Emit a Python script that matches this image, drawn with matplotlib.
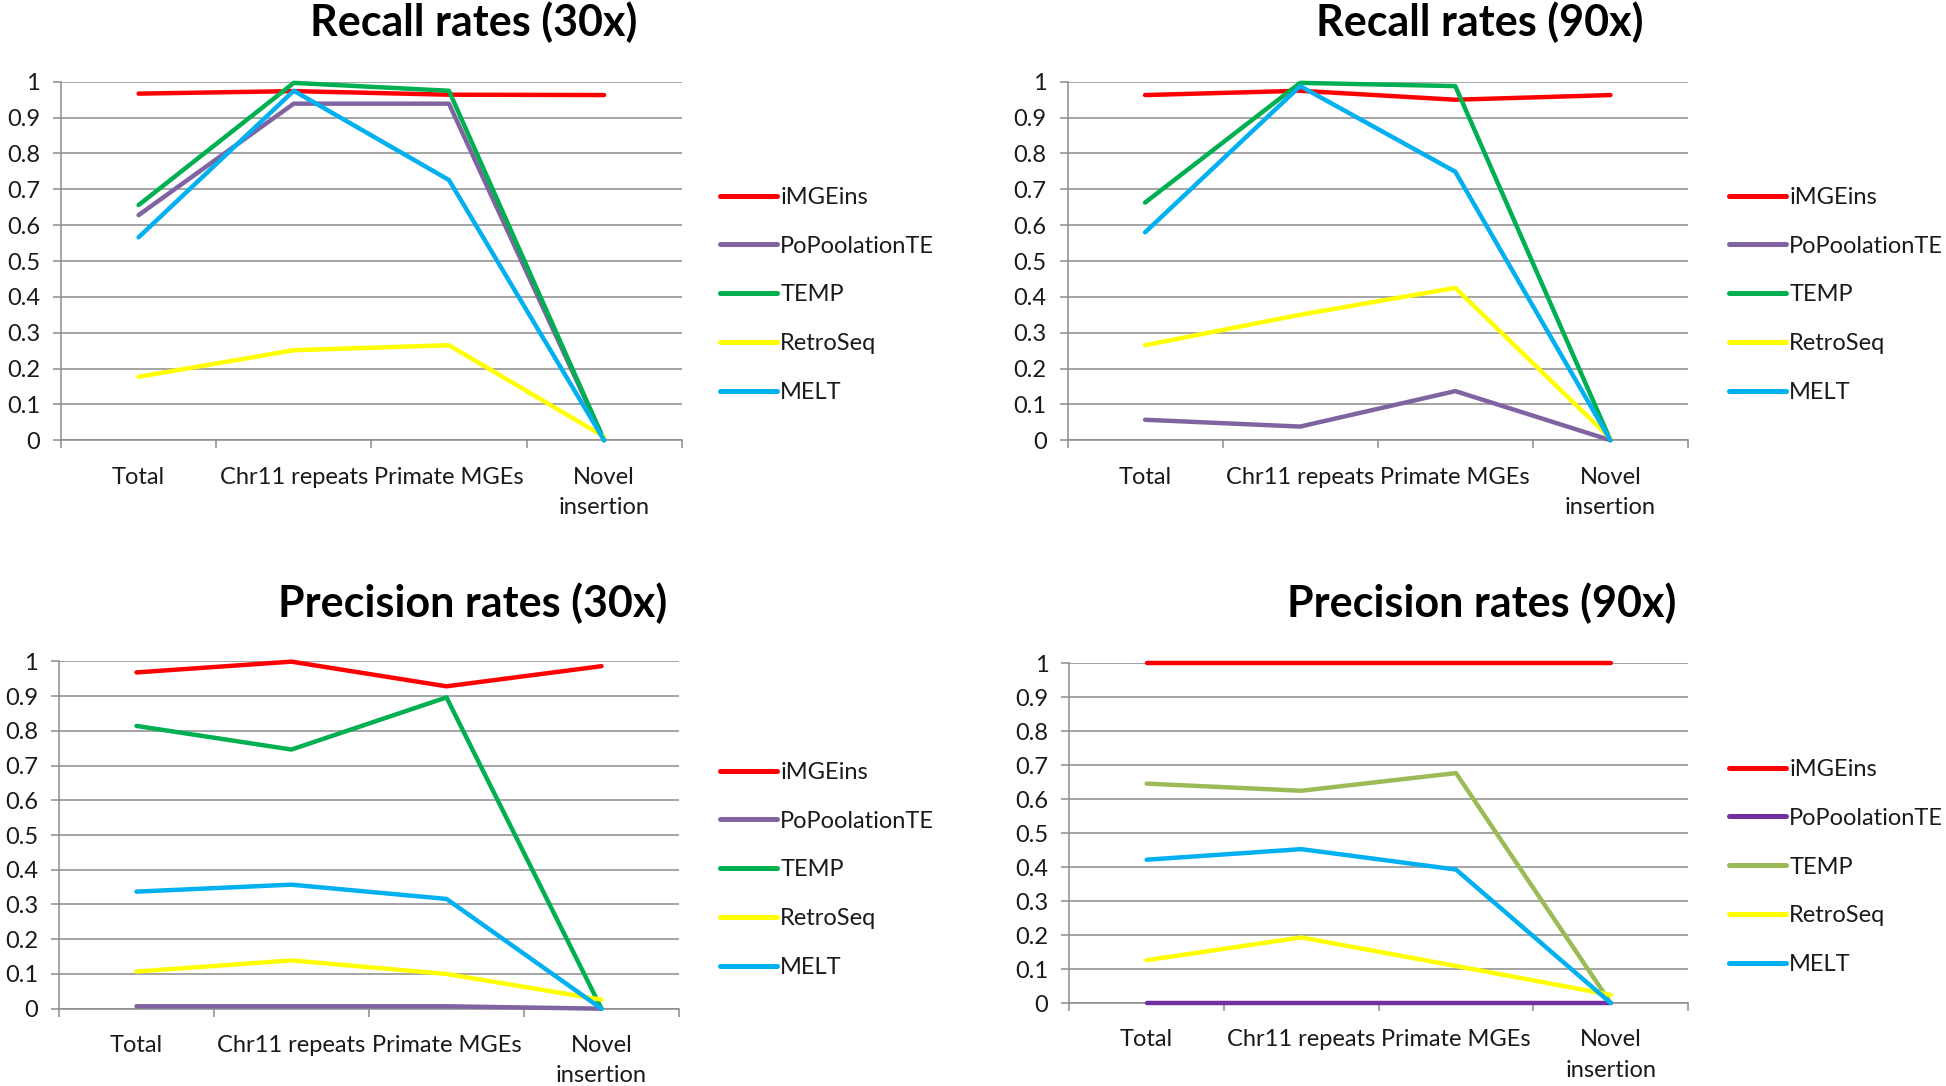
import matplotlib
matplotlib.use('Agg')
import matplotlib.pyplot as plt
from matplotlib.lines import Line2D

plt.rcParams['font.family'] = ['Lato', 'DejaVu Sans']

# categories / series
categories = ['Total', 'Chr11 repeats', 'Primate MGEs', 'Novel\ninsertion']
tools = ['iMGEins', 'PoPoolationTE', 'TEMP', 'RetroSeq', 'MELT']
y_ticks = [0, 0.1, 0.2, 0.3, 0.4, 0.5, 0.6, 0.7, 0.8, 0.9, 1]
y_tick_labels = ['0', '0.1', '0.2', '0.3', '0.4', '0.5', '0.6', '0.7', '0.8', '0.9', '1']

# Recall 30x
recall_30 = {
    'iMGEins':       [0.967, 0.974, 0.964, 0.963],
    'PoPoolationTE': [0.628, 0.939, 0.939, 0.0],
    'TEMP':          [0.656, 0.997, 0.975, 0.0],
    'RetroSeq':      [0.177, 0.251, 0.265, 0.01],
    'MELT':          [0.566, 0.975, 0.726, 0.0],
}
# Recall 90x
recall_90 = {
    'iMGEins':       [0.963, 0.975, 0.950, 0.963],
    'PoPoolationTE': [0.057, 0.038, 0.137, 0.0],
    'TEMP':          [0.663, 0.997, 0.988, 0.0],
    'RetroSeq':      [0.265, 0.350, 0.425, 0.005],
    'MELT':          [0.580, 0.988, 0.749, 0.0],
}
# Precision 30x
precision_30 = {
    'iMGEins':       [0.968, 0.999, 0.928, 0.986],
    'PoPoolationTE': [0.007, 0.007, 0.007, 0.0],
    'TEMP':          [0.814, 0.746, 0.896, 0.0],
    'RetroSeq':      [0.107, 0.139, 0.100, 0.026],
    'MELT':          [0.337, 0.357, 0.316, 0.0],
}
# Precision 90x
precision_90 = {
    'iMGEins':       [1.0, 1.0, 1.0, 1.0],
    'PoPoolationTE': [0.0, 0.0, 0.0, 0.0],
    'TEMP':          [0.646, 0.625, 0.677, 0.0],
    'RetroSeq':      [0.126, 0.193, 0.109, 0.024],
    'MELT':          [0.422, 0.453, 0.393, 0.0],
}

colors_a = ['#FF0000', '#8064A2', '#00B050', '#FFFF00', '#00B0F0']
colors_b = ['#FF0000', '#7030A0', '#9BBB59', '#FFFF00', '#00B0F0']

W, H = 1946, 1086
fig = plt.figure(figsize=(W / 100, H / 100), dpi=100)
GRID = '#8c8c8c'
FS = 17


def px_rect(x0, x1, y_top, y_bot):
    # pixel box -> figure fraction
    return [x0 / W, 1 - y_bot / H, (x1 - x0) / W, (y_bot - y_top) / H]


def draw_panel(rect, data, colors, title, title_xy, legend_xy):
    ax = fig.add_axes(rect)
    xs = range(len(categories))
    for tool, c in zip(tools, colors):
        ax.plot(xs, data[tool], color=c, lw=3.2, solid_capstyle='round',
                solid_joinstyle='round', clip_on=False, zorder=3)
    ax.set_xlim(-0.5, 3.5)
    ax.set_ylim(0, 1)
    ax.set_yticks(y_ticks)
    ax.set_yticklabels(y_tick_labels)
    ax.set_xticks(list(xs))
    ax.set_xticklabels(categories, linespacing=1.55)
    ax.set_xticks([-0.5, 0.5, 1.5, 2.5, 3.5], minor=True)
    ax.tick_params(axis='x', which='major', length=0, pad=19, labelsize=FS, labelcolor='#1a1a1a')
    ax.tick_params(axis='x', which='minor', length=6, width=1.1, color=GRID, direction='out')
    ax.tick_params(axis='y', length=6, width=1.1, color=GRID, pad=9, labelsize=FS, labelcolor='#1a1a1a')
    ax.grid(axis='y', color=GRID, lw=1.1, zorder=1)
    for s in ['top', 'right']:
        ax.spines[s].set_visible(False)
    for s in ['left', 'bottom']:
        ax.spines[s].set_color(GRID)
        ax.spines[s].set_linewidth(1.1)
    ax.set_axisbelow(True)
    fig.text(title_xy[0] / W, 1 - title_xy[1] / H, title, ha='center', va='center',
             fontsize=31, fontweight='bold', color='black')
    handles = [Line2D([0], [0], color=c, lw=3.6, solid_capstyle='round') for c in colors]
    fig.legend(handles, tools, loc='center left',
               bbox_to_anchor=(legend_xy[0] / W, 1 - legend_xy[1] / H),
               frameon=False, borderpad=0, borderaxespad=0, fontsize=FS,
               handlelength=2.4, handletextpad=0.15, labelspacing=1.18,
               labelcolor='#1a1a1a')
    return ax


draw_panel(px_rect(61, 681.7, 81.8, 440.2), recall_30, colors_a,
           'Recall rates (30x)', (474, 22), (720, 295))
draw_panel(px_rect(1067.5, 1688, 81.8, 440.2), recall_90, colors_a,
           'Recall rates (90x)', (1480, 22), (1729, 295))
draw_panel(px_rect(59, 679, 661.3, 1008.7), precision_30, colors_a,
           'Precision rates (30x)', (473, 603), (720, 870))
draw_panel(px_rect(1069.3, 1688, 663.4, 1003), precision_90, colors_b,
           'Precision rates (90x)', (1482, 603), (1729, 867))

fig.savefig('out.png', dpi=100, facecolor='white')
